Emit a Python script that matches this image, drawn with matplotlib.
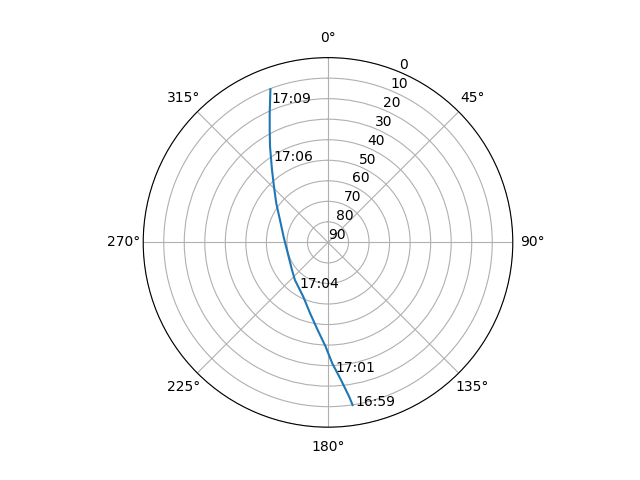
import matplotlib
matplotlib.use('Agg')
import matplotlib.pyplot as plt
import numpy as np

# satellite pass: azimuth (deg) and elevation (deg)
azimuth = [171.4, 172.2, 174.6, 178.0, 181.3, 186.7, 194.2, 204.5, 221.3, 232.5,
           254.9, 277.3, 295.0, 307.1, 315.9, 322.3, 328.8, 332.6, 335.7, 339.4]
elevation = [9.9, 14.2, 22.7, 31.1, 39.2, 47.0, 54.4, 60.95, 65.6, 67.9,
             69.7, 68.2, 64.2, 58.4, 52.2, 45.4, 35.5, 28.3, 21.0, 10.3]

# time labels along the track
label_times = ['16:59', '17:01', '17:04', '17:06', '17:09']
label_az = [170.6, 176.9, 212.3, 326.2, 338.1]
label_el = [9.25, 26.9, 63.6, 42.1, 16.6]


def main():
    fig = plt.figure(figsize=(6.4, 4.8), dpi=100)
    ax = fig.add_subplot(projection='polar')
    ax.set_theta_zero_location('N')
    ax.set_theta_direction(-1)

    ax.plot(np.radians(azimuth), elevation)
    for t, a, e in zip(label_times, label_az, label_el):
        ax.text(np.radians(a), e, t)

    ax.set_rlim(90, 0)
    ax.set_yticks(range(0, 91, 10))
    fig.savefig('out.png')


if __name__ == '__main__':
    main()
